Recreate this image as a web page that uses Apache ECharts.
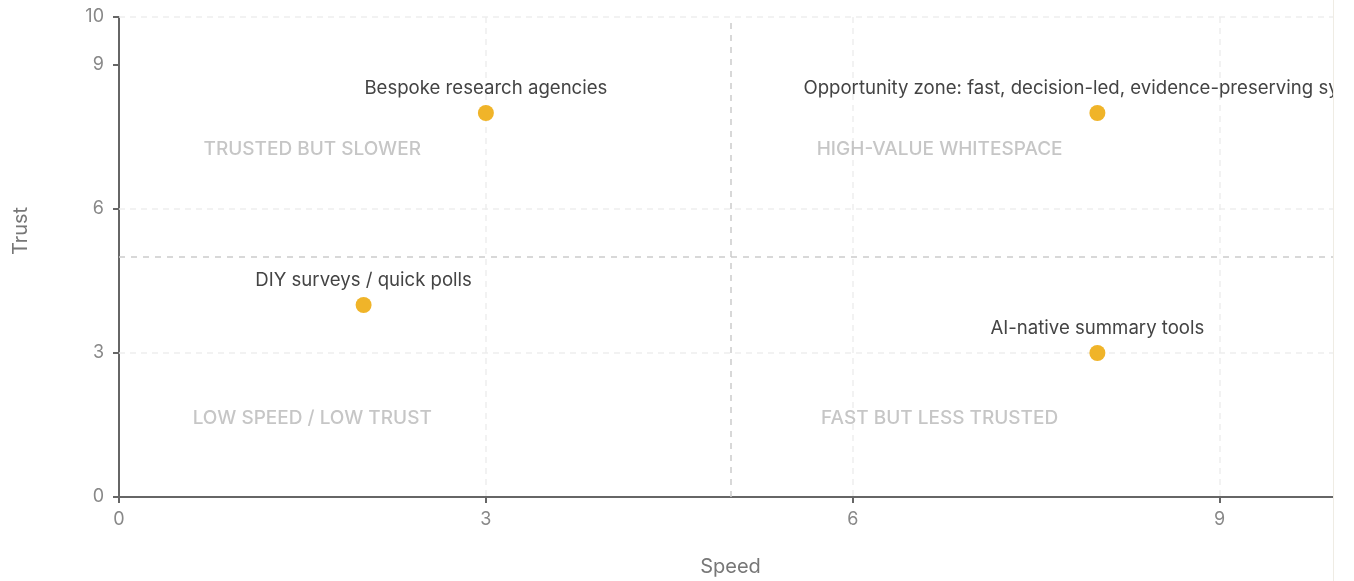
<!DOCTYPE html>
<html>
<head>
<meta charset="utf-8">
<script src="https://cdn.jsdelivr.net/npm/echarts@6/dist/echarts.min.js"></script>
<style>
  html, body { margin: 0; padding: 0; background: #fff; }
  #wrap { width: 1333px; height: 581px; overflow: hidden; border-right: 1px solid #efece4; }
  #chart { width: 1354px; height: 581px; }
</style>
</head>
<body>
<div id="wrap"><div id="chart"></div></div>
<script>
const pointNames = ["Bespoke research agencies", "Opportunity zone: fast, decision-led, evidence-preserving systems", "DIY surveys / quick polls", "AI-native summary tools"];
const speedValues = [3, 8, 2, 8];
const trustValues = [8, 8, 4, 3];
const quadrantLabels = ["TRUSTED BUT SLOWER", "HIGH-VALUE WHITESPACE", "LOW SPEED / LOW TRUST", "FAST BUT LESS TRUSTED"];
const quadrantX = [1.58, 6.71, 1.58, 6.71];
const quadrantY = [7.25, 7.25, 1.63, 1.63];
const dividerSpeed = 5;
const dividerTrust = 5;
const trustGridLines = [3, 6, 10];

const chart = echarts.init(document.getElementById('chart'));
const font = 'Inter, "Noto Sans", sans-serif';
const gridLineStyle = { color: '#eee', type: [6, 5], width: 1.5 };
chart.setOption({
  animation: false,
  grid: { left: 119, right: 12, top: 17, bottom: 84, outerBoundsMode: 'none', containLabel: false },
  xAxis: {
    type: 'value', min: 0, max: 10, interval: 3,
    name: 'Speed', nameLocation: 'middle', nameGap: 60,
    nameTextStyle: { color: '#777', fontSize: 20, fontFamily: font },
    axisLine: { show: true, lineStyle: { color: '#666', width: 2 } },
    axisTick: { show: true, length: 6, lineStyle: { color: '#666', width: 2 } },
    axisLabel: { color: '#888', fontSize: 18, fontFamily: font, margin: 14 },
    splitLine: { show: true, lineStyle: gridLineStyle }
  },
  yAxis: {
    type: 'value', min: 0, max: 10, interval: 3,
    name: 'Trust', nameLocation: 'middle', nameGap: 88,
    nameTextStyle: { color: '#777', fontSize: 20, fontFamily: font, padding: [0, 0, 0, 52] },
    axisLine: { show: true, lineStyle: { color: '#666', width: 2 } },
    axisTick: { show: true, length: 6, lineStyle: { color: '#666', width: 2 } },
    axisLabel: { color: '#888', fontSize: 18, fontFamily: font, margin: 15 },
    splitLine: { show: false }
  },
  series: [
    {
      type: 'scatter',
      symbolSize: 0,
      silent: true,
      data: [],
      markLine: {
        silent: true, symbol: 'none', label: { show: false },
        lineStyle: gridLineStyle,
        data: trustGridLines.map(v => ({ yAxis: v }))
      },
      z: 1
    },
    {
      type: 'scatter',
      symbolSize: 0,
      silent: true,
      data: [],
      markLine: {
        silent: true, symbol: 'none', label: { show: false },
        lineStyle: { color: '#ccc', type: [6, 6], width: 1.5 },
        data: [{ xAxis: dividerSpeed }, { yAxis: dividerTrust }]
      },
      z: 2
    },
    {
      type: 'scatter',
      symbolSize: 0,
      silent: true,
      data: quadrantLabels.map((t, i) => ({ name: t, value: [quadrantX[i], quadrantY[i]] })),
      label: { show: true, position: 'inside', formatter: p => p.name, color: '#b8b8b8', fontSize: 19, fontWeight: 500, fontFamily: font },
      z: 3
    },
    {
      type: 'scatter',
      symbolSize: 16,
      itemStyle: { color: '#f0b429', opacity: 1 },
      data: pointNames.map((n, i) => ({ name: n, value: [speedValues[i], trustValues[i]] })),
      label: { show: true, position: 'top', distance: 7, formatter: p => p.name, color: '#444', fontSize: 18.6, fontFamily: font },
      z: 5
    }
  ]
});
</script>
</body>
</html>
